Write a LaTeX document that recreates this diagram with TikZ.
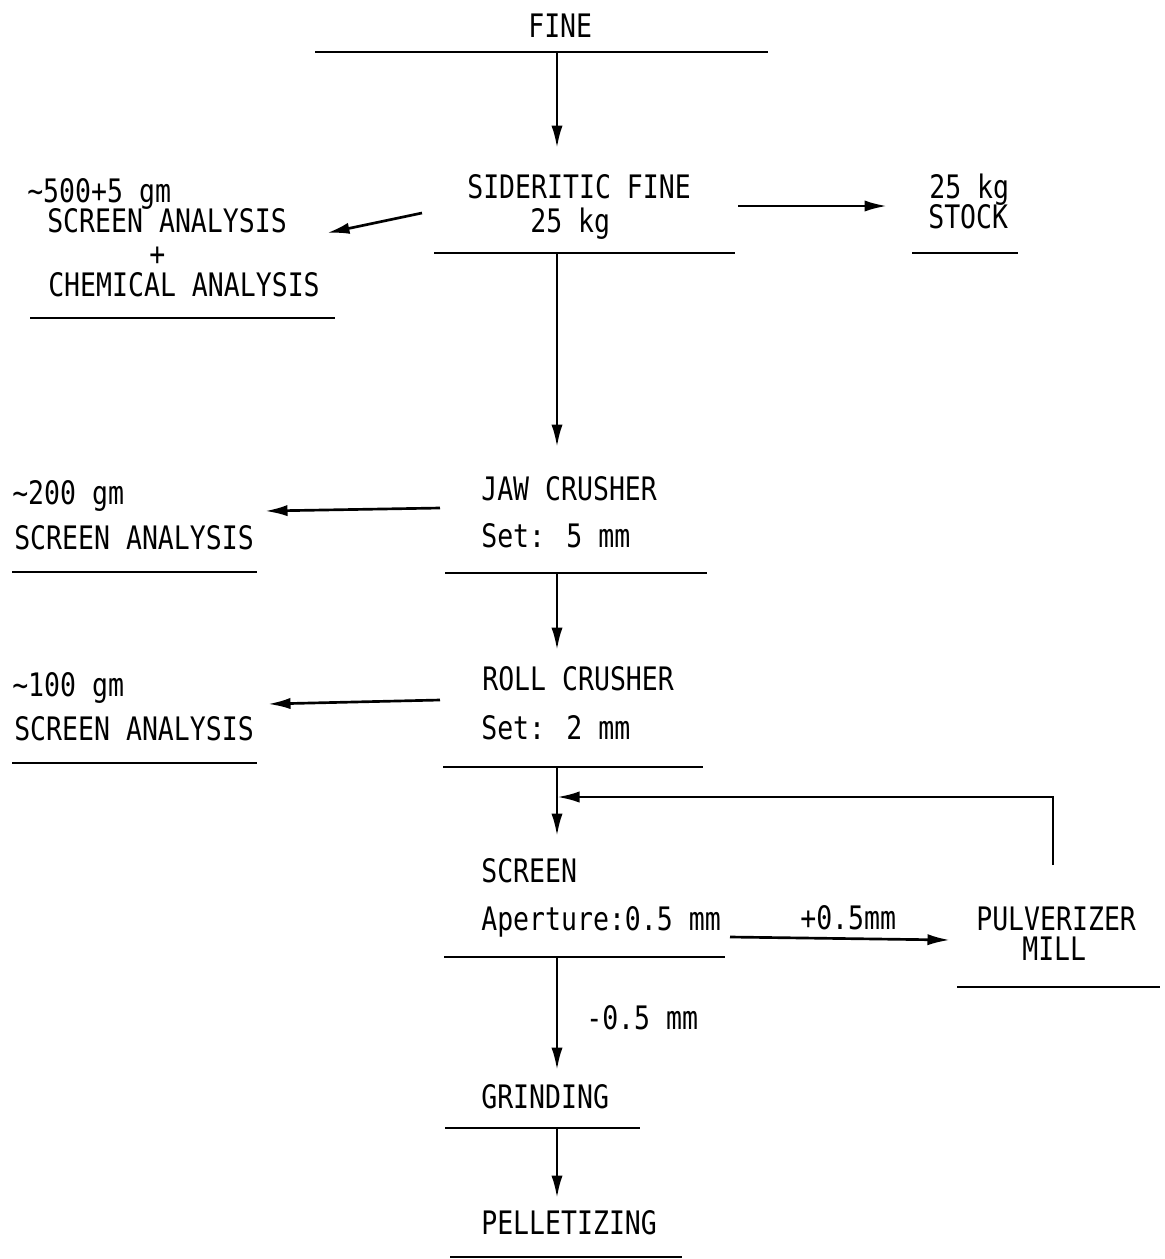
\documentclass[tikz,border=0pt]{standalone}
\usepackage{fontspec}
\usetikzlibrary{arrows.meta}
\newfontfamily\prtfont[FakeStretch=0.82]{DejaVu Sans Mono}
\tikzset{
  txt/.style={anchor=base west, inner sep=0pt, font=\prtfont\fontsize{23}{27}\selectfont},
  rule/.style={line width=1.9pt},
  flow/.style={line width=1.9pt, -{Latex[length=16pt,width=8pt]}}
}
\begin{document}
\begin{tikzpicture}[x=0.025cm, y=-0.025cm]
\useasboundingbox (0,0) rectangle (1165,1259);
% texts
\node[txt] (fine) at (528,37) {FINE};
\node[txt] (sid) at (467,198) {SIDERITIC FINE};
\node[txt] (sidkg) at (530,232) {25 kg};
\node[txt] (ca) at (27,202) {\textasciitilde500+5 gm};
\node[txt] (cb) at (47,232) {SCREEN ANALYSIS};
\node[txt] (cc) at (149,265) {+};
\node[txt] (cd) at (48,296) {CHEMICAL ANALYSIS};
\node[txt] (stkg) at (929,198) {25 kg};
\node[txt] (stock) at (928,228) {STOCK};
\node[txt] (jaw) at (481,500) {JAW CRUSHER};
\node[txt] (jawset) at (481,547) {Set: 5 mm};
\node[txt] (ja) at (12,504) {\textasciitilde200 gm};
\node[txt] (jb) at (14,549) {SCREEN ANALYSIS};
\node[txt] (roll) at (482,690) {ROLL CRUSHER};
\node[txt] (rollset) at (481,739) {Set: 2 mm};
\node[txt] (ra) at (12,696) {\textasciitilde100 gm};
\node[txt] (rb) at (14,740) {SCREEN ANALYSIS};
\node[txt] (scr) at (481,882) {SCREEN};
\node[txt] (ape) at (481,930) {Aperture:0.5 mm};
\node[txt] (plus) at (800,929) {+0.5mm};
\node[txt] (pul) at (976,930) {PULVERIZER};
\node[txt] (mill) at (1022,960) {MILL};
\node[txt] (minus) at (586,1029) {-0.5 mm};
\node[txt] (gri) at (481,1108) {GRINDING};
\node[txt] (pel) at (481,1234) {PELLETIZING};
% underlines
\draw[rule] (315,52) -- (768,52);
\draw[rule] (434,253) -- (735,253);
\draw[rule] (30,318) -- (335,318);
\draw[rule] (912,253) -- (1018,253);
\draw[rule] (445,573) -- (707,573);
\draw[rule] (12,572) -- (257,572);
\draw[rule] (443,767) -- (703,767);
\draw[rule] (12,763) -- (257,763);
\draw[rule] (444,957) -- (725,957);
\draw[rule] (957,987) -- (1160,987);
\draw[rule] (445,1128) -- (640,1128);
\draw[rule] (450,1257) -- (682,1257);
% connector ends
\coordinate (f0) at (557,52);   \coordinate (f1) at (557,148);
\coordinate (s0) at (557,253);  \coordinate (s1) at (557,447);
\coordinate (c0) at (422,213);  \coordinate (c1) at (327,233);
\coordinate (k0) at (738,206);  \coordinate (k1) at (887,206);
\coordinate (j0) at (440,508);  \coordinate (j1) at (265,511);
\coordinate (j2) at (557,573);  \coordinate (j3) at (557,650);
\coordinate (r0) at (440,700);  \coordinate (r1) at (268,704);
\coordinate (r2) at (557,767);  \coordinate (r3) at (557,836);
\coordinate (m0) at (1053,865); \coordinate (m1) at (1053,797);
\coordinate (m2) at (557,797);
\coordinate (p0) at (730,937);  \coordinate (p1) at (950,940);
\coordinate (g0) at (557,957);  \coordinate (g1) at (557,1070);
\coordinate (e0) at (557,1128); \coordinate (e1) at (557,1198);
% arrows
\draw[flow] (f0) -- (f1);
\draw[flow] (s0) -- (s1);
\draw[flow] (c0) -- (c1);
\draw[flow] (k0) -- (k1);
\draw[flow] (j0) -- (j1);
\draw[flow] (j2) -- (j3);
\draw[flow] (r0) -- (r1);
\draw[flow] (r2) -- (r3);
\draw[flow] (m0) -- (m1) -- (m2);
\draw[flow] (p0) -- (p1);
\draw[flow] (g0) -- (g1);
\draw[flow] (e0) -- (e1);
\end{tikzpicture}
\end{document}
